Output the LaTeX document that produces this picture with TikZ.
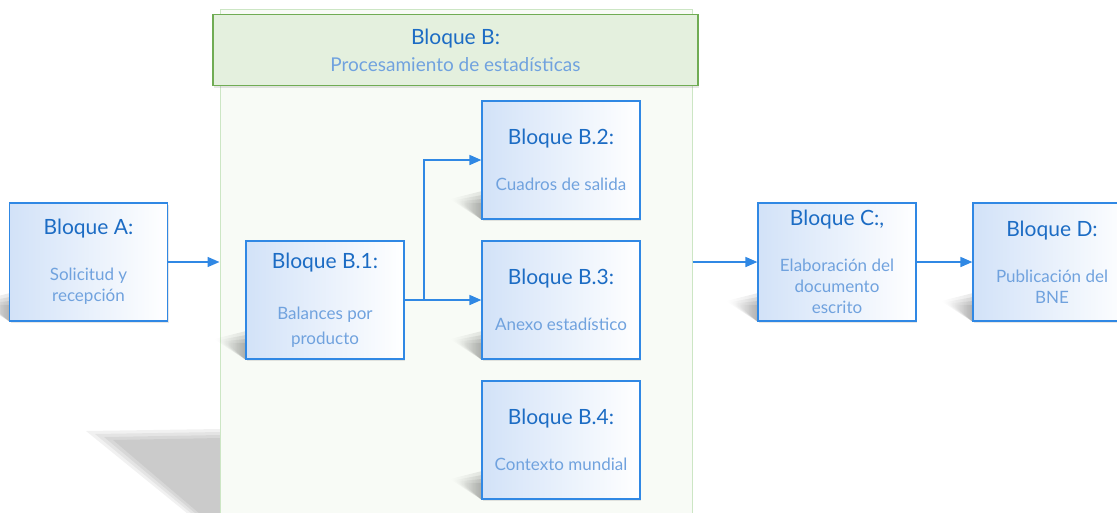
\documentclass[tikz,border=0pt]{standalone}
\usepackage{fontspec}
\setmainfont{Lato}
\usepackage{tikz}
\usetikzlibrary{arrows.meta,shadows,fadings}

\definecolor{tituloazul}{RGB}{28,108,196}
\definecolor{textoazul}{RGB}{112,162,222}
\definecolor{lineaazul}{RGB}{48,136,228}
\definecolor{fondoazul}{RGB}{210,226,248}
\definecolor{fondoverde}{RGB}{248,251,246}
\definecolor{lineaverde}{RGB}{204,230,196}
\definecolor{cabverde}{RGB}{228,240,222}
\definecolor{cablinea}{RGB}{112,172,84}

\newcommand{\titulo}[1]{{\fontsize{21}{21}\selectfont\color{tituloazul}#1}}

\begin{document}
\begin{tikzpicture}
[x=1pt,y=-1pt,
  flow/.style={-{Triangle[length=12pt,width=10pt]},draw=lineaazul,line width=1.6pt},
  bloque/.style={draw=lineaazul,line width=1.2pt,left color=fondoazul,right color=white,
    minimum width=158pt,minimum height=118pt,inner sep=0pt,align=center,
    font=\fontsize{17}{21}\selectfont,text=textoazul,
    drop shadow={opacity=0.2,shadow xshift=1pt,shadow yshift=-2pt}},
  marco/.style={draw=lineaverde,line width=1pt,fill=fondoverde,
    minimum width=472pt,minimum height=552pt,inner sep=0pt},
  cabecera/.style={draw=cablinea,line width=1.2pt,fill=cabverde,
    minimum width=485pt,minimum height=71pt,inner sep=0pt,align=center,
    font=\fontsize{19}{27}\selectfont,text=textoazul,
    drop shadow={opacity=0.2,shadow xshift=1pt,shadow yshift=-2pt}},
  sombra/.style={fill=black,fill opacity=0.09,path fading=west},
  sombragrande/.style={fill=black,fill opacity=0.055}]
  \useasboundingbox (0,0) rectangle (1117,512);
  \clip (0,0) rectangle (1117,512);

%   sombra del bloque B
  \foreach \s in {0,3,6,9}
    \fill[sombragrande] (86+3*\s,431+\s) -- (220,429+\s) -- (220,540-\s) -- cycle;

  \node[marco] (procesamiento) at 	(456,285) {};
  \node[cabecera] (cabecera) at 	(455.5,50) {\titulo{Bloque B:}\\[0pt]Procesamiento de estad\'isticas};

  \foreach \x/\y in {10/321, 246/359, 482/219, 482/359, 482/499, 758/321, 973/321}
    \foreach \s in {0,4,8,12}
      \fill[sombra] (\x-32+\s,\y-20+0.3*\s) -- (\x,\y-28+\s) -- (\x,\y+1) -- cycle;

  \node[bloque] (solicitud) at 		(88.5,262) {\titulo{Bloque A:}\\[25pt]Solicitud y\\recepci\'on};
  \node[bloque,font=\fontsize{17}{25}\selectfont] (balances) at (325,300) {\titulo{Bloque B.1:}\\[26pt]Balances por\\producto};
  \node[bloque] (cuadros) at 		(561,160) {\titulo{Bloque B.2:}\\[25pt]Cuadros de salida};
  \node[bloque] (anexo) at 		(561,300) {\titulo{Bloque B.3:}\\[25pt]Anexo estad\'istico};
  \node[bloque] (contexto) at 		(561,440) {\titulo{Bloque B.4:}\\[25pt]Contexto mundial};
  \node[bloque] (elaboracion) at 	(837,262) {\titulo{Bloque C:,}\\[25pt]Elaboraci\'on del\\documento\\escrito};
  \node[bloque] (publicacion) at 	(1052,262) {\titulo{Bloque D:}\\[25pt]Publicaci\'on del\\BNE};

  \coordinate (reparto) at (424,300);

  \draw[flow] (solicitud.east) -- (solicitud.east -| procesamiento.west);
  \draw[flow] (balances.east) -- (anexo.west);
  \draw[flow] (reparto) |- (cuadros.west);
  \draw[flow] (procesamiento.east |- elaboracion.west) -- (elaboracion.west);
  \draw[flow] (elaboracion.east) -- (publicacion.west);

\end{tikzpicture}
\end{document}
